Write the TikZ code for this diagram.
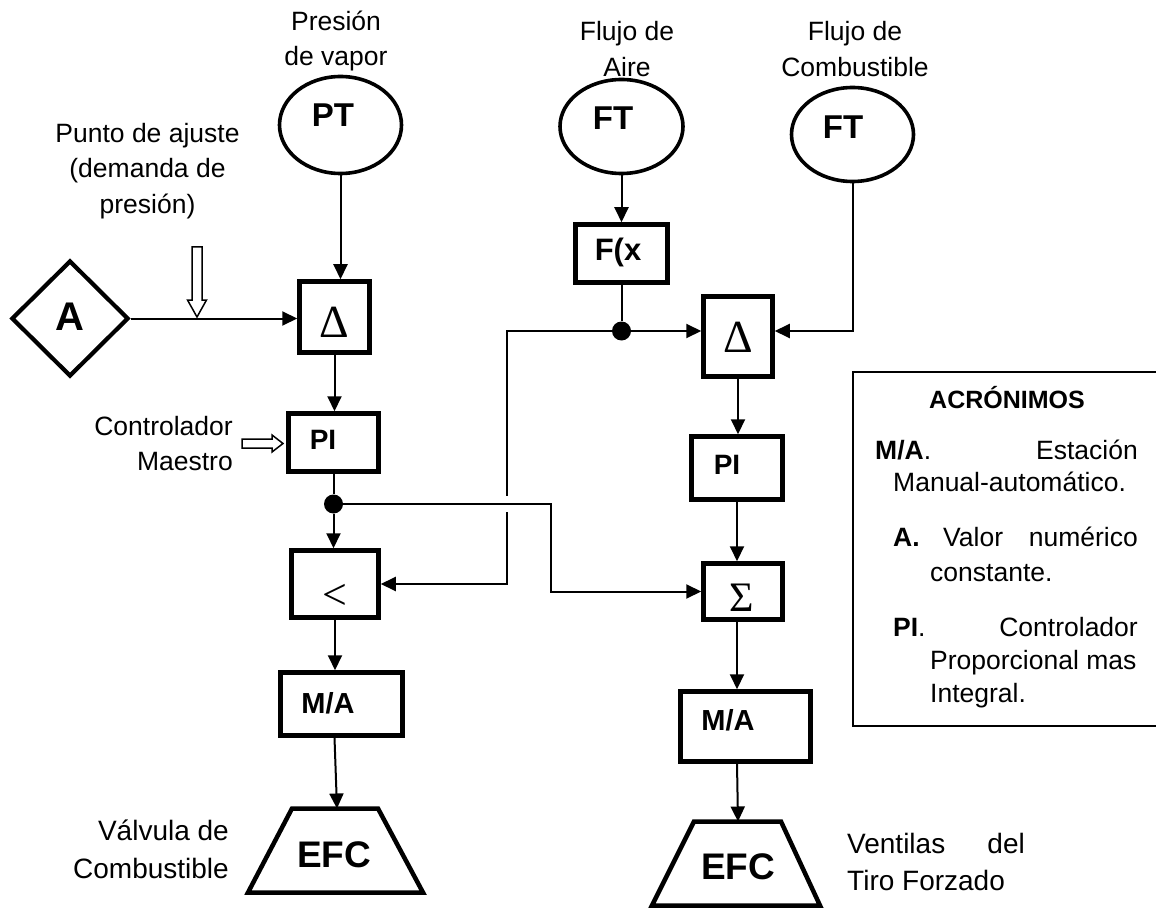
\documentclass[tikz,border=0pt]{standalone}
\usepackage{fontspec}
\setmainfont{Liberation Sans}
\newfontfamily\symfont{Liberation Serif}
\usetikzlibrary{shapes.geometric,arrows.meta}

\newcommand{\fsz}[2]{\fontsize{#1}{#2}\selectfont}

\tikzset{
  blk/.style={draw, line width=4.5pt, inner sep=0pt},
  bubble/.style={draw, ellipse, line width=3.6pt, inner sep=0pt},
  tag/.style={font=\bfseries\fsz{#1}{#1}, inner sep=0pt},
  tag/.default=28,
  sym/.style={font=\symfont\fsz{#1}{#1}, inner sep=0pt},
  lbl/.style={font=\fsz{26.5}{35.5}, align=center, inner sep=0pt},
  leg/.style={font=\fsz{26.5}{33}, inner sep=0pt, text height=19pt, text depth=0pt},
  arr/.style={-{Triangle[length=15pt,width=14pt]}, line width=2pt},
  wire/.style={line width=2pt},
  jdot/.style={circle, fill, minimum size=19pt, inner sep=0pt},
  hollow/.style={draw, line width=1.5pt, fill=white},
}

\begin{document}
\begin{tikzpicture}[x=1pt, y=-1pt]
\useasboundingbox (0,0) rectangle (1156,909);

% Transmisores
\node[bubble, minimum width=122, minimum height=97] (pt) at (340.5,125) {};
\node[tag=33] (tpt) at (333,115) {PT};
\node[bubble, minimum width=123, minimum height=94] (ft1) at (621.5,126.5) {};
\node[tag=33] (tft1) at (613,118) {FT};
\node[bubble, minimum width=122, minimum height=94] (ft2) at (852.5,134.5) {};
\node[tag=33] (tft2) at (843,127) {FT};

% Etiquetas de entrada
\node[lbl] (lpres) at (336,41) {Presi\'on\\de vapor};
\node[lbl] (laire) at (627,49) {Flujo de\\Aire};
\node[lbl] (lcomb) at (855,49) {Flujo de\\Combustible};
\node[lbl] (lajuste) at (147.5,171) {Punto de ajuste\\(demanda de\\presi\'on)};
\node[lbl, align=right, anchor=east] (lmaestro) at (233,443.5) {Controlador\\Maestro};

% Lazo de presion
\node[draw, diamond, line width=4.2pt, inner sep=0pt, minimum width=117, minimum height=116] (a) at (70,318.5) {};
\node[tag=40] (ta) at (70,317) {A};
\node[blk, minimum width=70, minimum height=71] (d1) at (334.5,317) {};
\node[sym=46] (td1) at (334,322) {Δ};
\node[blk, minimum width=90, minimum height=58] (pi1) at (333.5,442.5) {};
\node[tag] (tpi1) at (323,440) {PI};
\node[jdot] (dot1) at (333.5,504) {};
\node[blk, minimum width=87, minimum height=67] (lt) at (335,584) {};
\node[sym=44] (tlt) at (335,597) {<};
\node[blk, minimum width=122, minimum height=63] (ma1) at (341.5,704) {};
\node[tag=29] (tma1) at (328,703) {M/A};
\draw[line width=4.5pt, line join=miter] (292,808.5) -- (378,808.5) -- (423,892.5) -- (248,892.5) -- cycle;
\coordinate (efc1) at (337,808.5);
\node[tag=37] (tefc1) at (334,855) {EFC};
\node[font=\fsz{28}{38}, align=right, anchor=east, inner sep=0pt] (lvalv) at (229,849) {V\'alvula de\\Combustible};

% Lazo de aire
\node[blk, minimum width=92, minimum height=58] (fx) at (621.5,253.5) {};
\node[tag=31] (tfx) at (618,252) {F(x};
\node[jdot] (dot2) at (621.5,331) {};
\node[blk, minimum width=69, minimum height=80] (d2) at (738,336.5) {};
\node[sym=46] (td2) at (738,337) {Δ};
\node[blk, minimum width=91, minimum height=63] (pi2) at (737,468) {};
\node[tag] (tpi2) at (727,465) {PI};
\node[blk, minimum width=79, minimum height=56] (sg) at (743,591.5) {};
\node[sym=42] (tsg) at (742,598) {Σ};
\node[blk, minimum width=130, minimum height=70] (ma2) at (745.5,726.5) {};
\node[tag=29] (tma2) at (728,720) {M/A};
\draw[line width=4.5pt, line join=miter] (694,821.5) -- (781,821.5) -- (820,905.5) -- (652,905.5) -- cycle;
\coordinate (efc2) at (738,821.5);
\node[tag=37] (tefc2) at (738,867) {EFC};
\node[font=\fsz{28}{38}, inner sep=0pt, anchor=west, text height=20pt, text depth=0pt] (lvent) at (847,843) {Ventilas};
\node[font=\fsz{28}{38}, inner sep=0pt, anchor=east, text height=20pt, text depth=0pt] (ldel) at (1025,843) {del};
\node[font=\fsz{28}{38}, inner sep=0pt, anchor=west, text height=20pt, text depth=0pt] (ltiro) at (847,880) {Tiro Forzado};

% Flechas huecas
\draw[hollow] (192,247) -- (202,247) -- (202,300) -- (206.5,300) -- (197,317) -- (187.5,300) -- (192,300) -- cycle;
\draw[hollow] (242,439) -- (272,439) -- (272,435) -- (283,443.5) -- (272,452) -- (272,448) -- (242,448) -- cycle;

% Conexiones
\coordinate (hop) at (507,504);
\coordinate (turn) at (551,504);
\draw[arr] (pt.south) -- (pt.south |- d1.north);
\draw[arr] (a.east) -- (a.east -| d1.west);
\draw[arr] (d1.south) -- (d1.south |- pi1.north);
\draw[wire] (pi1) -- (dot1);
\draw[arr] (dot1) -- (dot1 |- lt.north);
\draw[arr] (lt.south) -- (lt.south |- ma1.north);
\draw[arr] ([xshift=-7pt]ma1.south) -- (efc1);
\draw[arr] (ft1.south) -- (fx.north);
\draw[wire] (fx) -- (dot2);
\draw[arr] (dot2) -- (dot2 -| d2.west);
\draw[wire] (dot2) -| ([yshift=8pt]hop);
\draw[arr] ([yshift=-8pt]hop) |- (lt.east);
\draw[arr] (dot1) -- (turn) |- (sg.west);
\draw[arr] (ft2.south) |- (d2.east |- dot2);
\draw[arr] (d2.south) -- (d2.south |- pi2.north);
\draw[arr] (pi2.south) -- (pi2.south |- sg.north);
\draw[arr] (pi2.south |- sg.south) -- (pi2.south |- ma2.north);
\draw[arr] (pi2.south |- ma2.south) -- (efc2);

% Acronimos
\draw[line width=2pt] (1170,372) -- (853,372) -- (853,726) -- (1170,726);
\node[font=\bfseries\fsz{25}{25}, inner sep=0pt] (lacr) at (1007,398) {ACR\'ONIMOS};
\node[leg, anchor=west] (lma) at (875,450) {\textbf{M/A}.};
\node[leg, anchor=east] (lest) at (1138,450) {Estaci\'on};
\node[leg, anchor=west] (lmanual) at (893,482) {Manual-autom\'atico.};
\node[leg, anchor=west] (la) at (893,537) {\textbf{A.}};
\node[leg, anchor=west] (lvalor) at (943,537) {Valor};
\node[leg, anchor=east] (lnum) at (1138,537) {num\'erico};
\node[leg, anchor=west] (lconst) at (930,572) {constante.};
\node[leg, anchor=west] (lpi) at (893,627) {\textbf{PI}.};
\node[leg, anchor=east] (lctrl) at (1138,627) {Controlador};
\node[leg, anchor=west] (lprop) at (930,660) {Proporcional mas};
\node[leg, anchor=west] (lint) at (930,693) {Integral.};
\end{tikzpicture}
\end{document}
